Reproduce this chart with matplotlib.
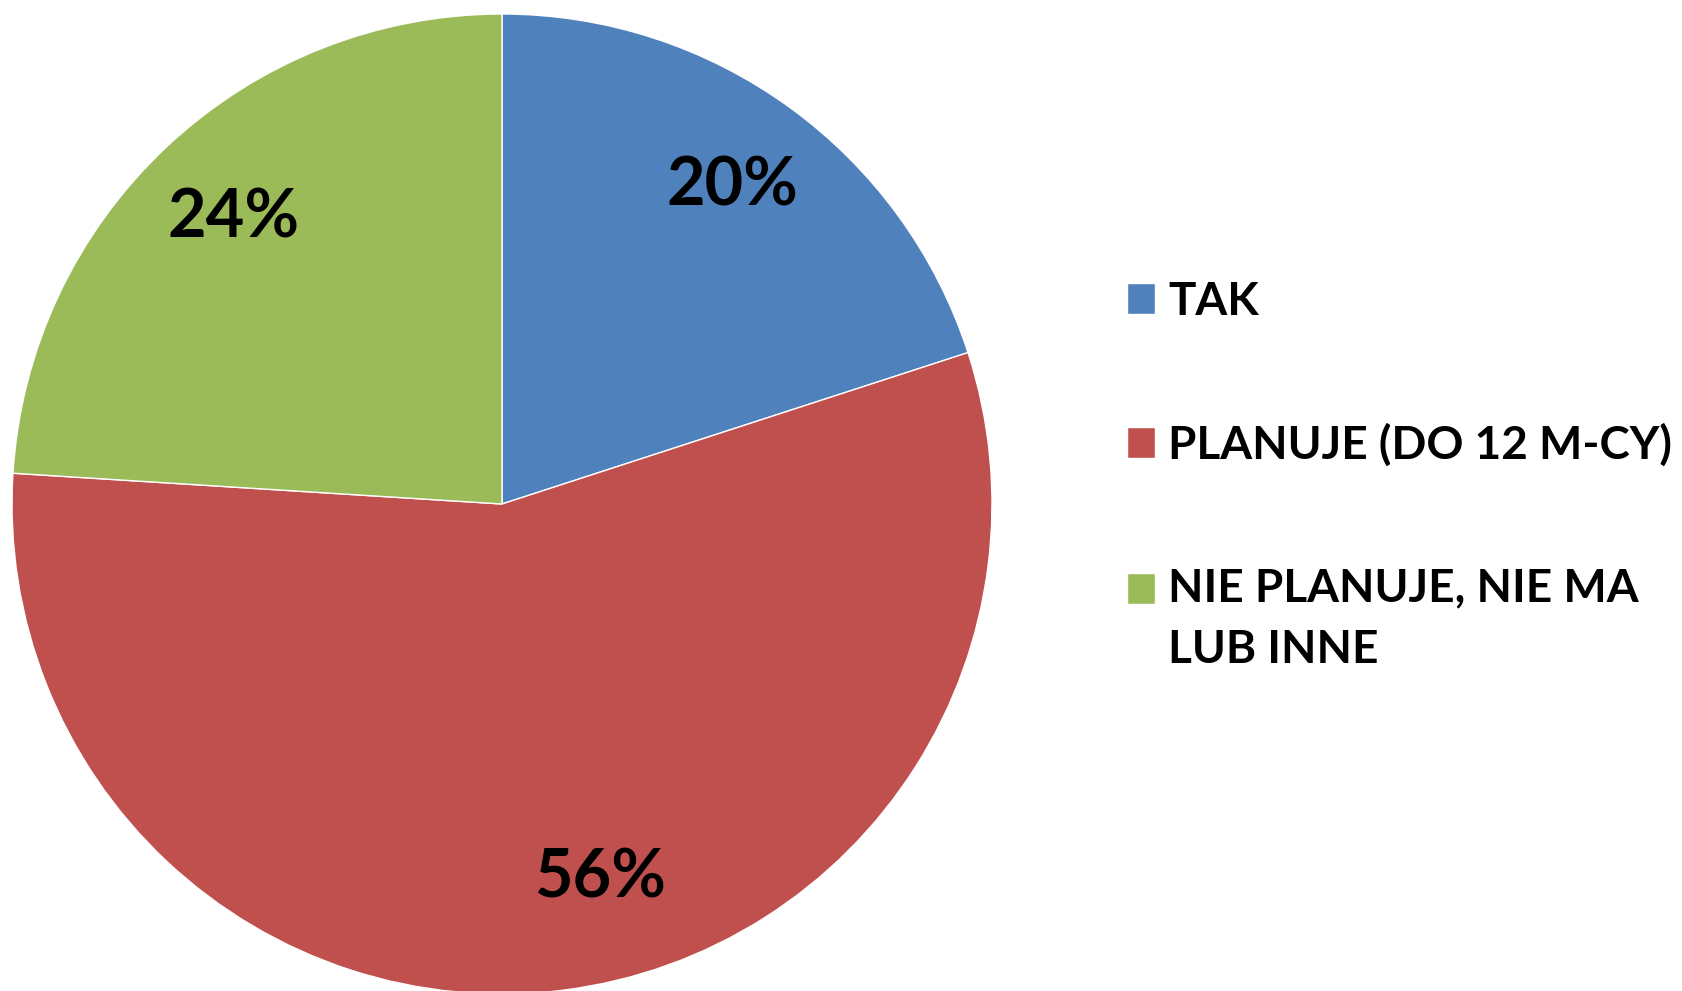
import matplotlib
matplotlib.use("Agg")
import matplotlib.pyplot as plt
from matplotlib import font_manager as fm

categories = ["TAK", "PLANUJE (DO 12 M-CY)", "NIE PLANUJE, NIE MA\nLUB INNE"]
values = [20, 56, 24]
colors = ["#4F81BD", "#C0504D", "#9BBB59"]

names = {f.name for f in fm.fontManager.ttflist}
legend_family = "Liberation Sans Narrow" if "Liberation Sans Narrow" in names else "Lato"
pct_family = "Lato" if "Lato" in names else "DejaVu Sans"

fig = plt.figure(figsize=(16.82, 9.91), dpi=100)
ax = fig.add_axes([12 / 1682, -3 / 991, 980 / 1682, 980 / 991])
wedges, texts, autotexts = ax.pie(
    values, colors=colors, startangle=90, counterclock=False,
    autopct=lambda p: f"{p:.0f}%", pctdistance=0.80, radius=1.0,
    wedgeprops=dict(edgecolor="white", linewidth=1.0),
    textprops=dict(family=pct_family, fontweight="bold", fontsize=48, color="black"),
)
# nudge the 56% label toward its position in the original
x, y = autotexts[1].get_position()
autotexts[1].set_position((x + 0.10, y + 0.03))

ax.set_xlim(-1, 1)
ax.set_ylim(-1, 1)
ax.set_aspect("equal")
ax.axis("off")

leg = fig.legend(
    wedges, categories, loc="upper left",
    bbox_to_anchor=(1127 / 1682, 1 - 281 / 991),
    frameon=False, borderpad=0, borderaxespad=0,
    prop=dict(family=legend_family, weight="bold", size=33),
    handlelength=0.62, handleheight=0.66, handletextpad=0.28, labelspacing=2.19,
)
linesp = 1.58
for t in leg.get_texts():
    t.set_linespacing(linesp)
# align the square of the two-line entry with its first line
h = leg.legend_handles[2]
h.set_y(h.get_y() + 0.5 * 63 * 72 / 100)

fig.savefig("out.png", dpi=100, facecolor="white")
